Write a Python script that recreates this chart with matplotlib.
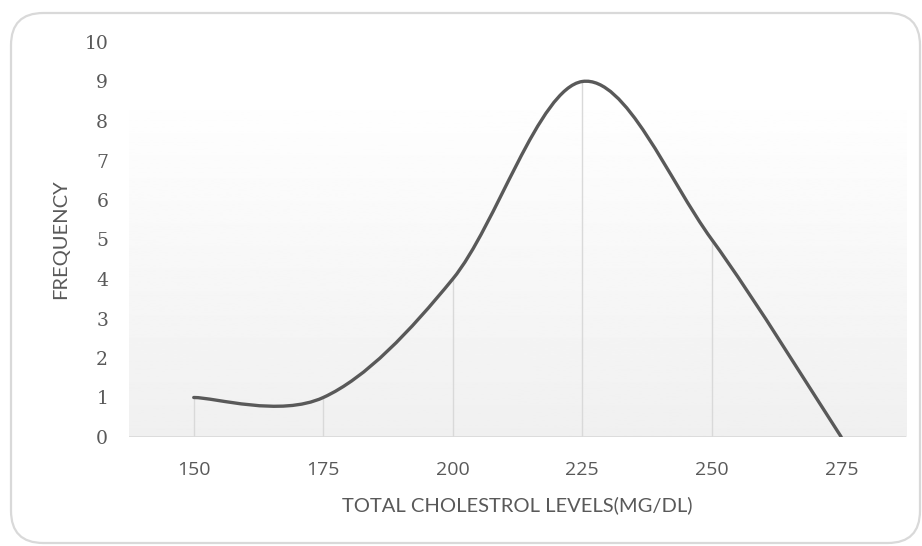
import numpy as np
import matplotlib.pyplot as plt
from matplotlib.path import Path
from matplotlib.patches import PathPatch, FancyBboxPatch

# Data
levels = [150, 175, 200, 225, 250, 275]
frequency = [1, 1, 4, 9, 5, 0]

plt.rcParams['font.family'] = ['Lato', 'DejaVu Sans']
txt = '#595959'

fig = plt.figure(figsize=(9.22, 5.46), dpi=100)
ax = fig.add_axes([129 / 922, 1 - 437 / 546, 777 / 922, 395 / 546])

# rounded chart border
border = FancyBboxPatch((11 / 922, 3 / 546), 909 / 922, 530 / 546,
                        boxstyle='round,pad=0,rounding_size=0.035',
                        transform=fig.transFigure, fill=False,
                        ec='#d9d9d9', lw=1.6, mutation_aspect=922 / 546)
fig.patches.append(border)

# gradient plot-area fill
grad = np.linspace(1.0, 0.94, 256).reshape(-1, 1)
ax.imshow(grad, cmap='gray', vmin=0, vmax=1, aspect='auto',
          extent=[0, 1, 0, 350 / 395], transform=ax.transAxes, zorder=0)

ax.set_xlim(137.5, 287.5)
ax.set_ylim(0, 10)

# drop lines
ax.vlines(levels, 0, frequency, color='#d9d9d9', lw=1, zorder=1)
ax.axhline(0, color='#d9d9d9', lw=1.2, zorder=1)

# smoothed line (Excel-style cubic Bezier)
pts = np.column_stack([levels, frequency]).astype(float)
n = len(pts)
verts = [pts[0]]
codes = [Path.MOVETO]
for i in range(n - 1):
    p_prev = pts[max(i - 1, 0)]
    p0 = pts[i]
    p1 = pts[i + 1]
    p_next = pts[min(i + 2, n - 1)]
    c1 = p0 + (p1 - p_prev) / 6
    c2 = p1 - (p_next - p0) / 6
    verts += [c1, c2, p1]
    codes += [Path.CURVE4] * 3
ax.add_patch(PathPatch(Path(verts, codes), fill=False, ec='#595959',
                       lw=2.4, capstyle='round', zorder=3))

ax.set_xticks(levels)
ax.set_yticks(range(0, 11))
ax.tick_params(length=0, colors=txt)
ax.tick_params(axis='x', pad=17)
ax.tick_params(axis='y', pad=15)
for lab in ax.get_xticklabels():
    lab.set_fontfamily(['Open Sans', 'DejaVu Sans'])
    lab.set_fontsize(14)
for lab in ax.get_yticklabels():
    lab.set_fontfamily(['DejaVu Serif'])
    lab.set_fontsize(13.5)
for s in ax.spines.values():
    s.set_visible(False)

ax.set_xlabel('TOTAL CHOLESTROL LEVELS(MG/DL)', fontsize=14.5, color=txt, labelpad=13)
ax.set_ylabel('FREQUENCY', fontsize=14.5, color=txt, labelpad=11)

fig.savefig('out.png', dpi=100)
